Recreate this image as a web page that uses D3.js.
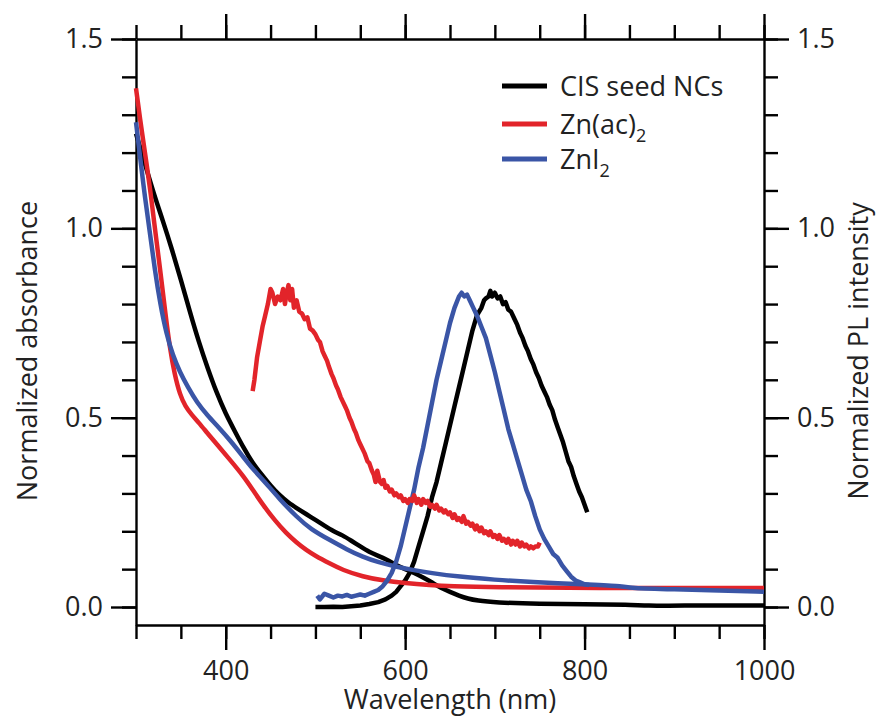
<!DOCTYPE html>
<html>
<head>
<meta charset="utf-8">
<script src="https://cdn.jsdelivr.net/npm/d3@7"></script>
<style>
  body { margin: 0; background: #fff; }
  svg { display: block; font-family: "Open Sans", sans-serif; }
  .axis path, .axis line { stroke: #000; stroke-width: 2.4; }
  .axis text { font-size: 27px; fill: #222; font-family: "Open Sans", sans-serif; }
</style>
</head>
<body>
<svg id="chart" width="876" height="718"></svg>
<script>
// absorbance spectra  [wavelength nm, normalized absorbance]
var absSeed = [[300,1.25],[310,1.17],[320,1.09],[330,1.02],[340,0.945],[350,0.865],[360,0.78],[370,0.70],
  [380,0.63],[390,0.565],[400,0.51],[410,0.465],[420,0.42],[430,0.38],[440,0.35],[450,0.32],[460,0.295],
  [470,0.275],[480,0.26],[490,0.245],[500,0.23],[510,0.215],[520,0.20],[530,0.19],[540,0.175],[550,0.16],
  [560,0.145],[570,0.135],[580,0.125],[590,0.11],[600,0.10],[610,0.09],[620,0.078],[630,0.065],[640,0.05],
  [650,0.04],[660,0.03],[670,0.022],[680,0.017],[700,0.012],[750,0.008],[800,0.007],[850,0.006],[870,0.003],
  [900,0.004],[1000,0.004]];
var absZnAc = [[300,1.37],[305,1.28],[310,1.20],[316,1.10],[320,1.02],[327,0.89],[333,0.77],[338,0.68],
  [343,0.615],[349,0.56],[355,0.53],[362,0.508],[370,0.487],[380,0.458],[390,0.43],[405,0.388],[420,0.345],
  [430,0.31],[442,0.268],[455,0.228],[467,0.196],[479,0.17],[490,0.15],[500,0.135],[516,0.115],[530,0.098],
  [553,0.08],[575,0.07],[600,0.063],[628,0.058],[650,0.055],[700,0.052],[800,0.05],[1000,0.05]];
var absZnI = [[300,1.28],[304,1.20],[310,1.08],[316,0.98],[321,0.89],[327,0.80],[334,0.72],[341,0.665],
  [349,0.62],[358,0.58],[368,0.54],[380,0.505],[392,0.475],[405,0.44],[420,0.395],[430,0.365],[442,0.335],
  [460,0.285],[479,0.238],[495,0.205],[516,0.177],[535,0.152],[553,0.132],[570,0.118],[591,0.106],
  [610,0.097],[628,0.09],[660,0.08],[700,0.072],[739,0.066],[800,0.06],[840,0.056],[850,0.05],[900,0.047],
  [950,0.044],[1000,0.04]];

// PL spectra  [wavelength nm, normalized PL intensity]
var plSeed = [[500,0.0],[510,0.0],[520,0.001],[530,0.0],[540,0.002],[550,0.004],[560,0.008],[570,0.013],
  [578,0.02],[585,0.03],[590,0.04],[595,0.055],[600,0.07],[605,0.09],[610,0.12],[615,0.16],[620,0.20],
  [625,0.24],[630,0.29],[635,0.33],[640,0.38],[645,0.43],[650,0.48],[655,0.53],[660,0.58],[665,0.63],
  [670,0.68],[675,0.73],[680,0.77],[685,0.79],[688,0.81],[690,0.815],[693,0.82],[695,0.835],[697,0.82],
  [700,0.83],[703,0.815],[706,0.82],[709,0.80],[712,0.805],[715,0.785],[718,0.78],[722,0.76],[725,0.745],
  [728,0.725],[731,0.71],[734,0.69],[737,0.675],[740,0.655],[743,0.64],[746,0.62],[749,0.605],[752,0.585],
  [755,0.57],[758,0.555],[761,0.535],[764,0.52],[767,0.495],[770,0.475],[773,0.455],[776,0.435],[779,0.41],
  [782,0.385],[785,0.37],[788,0.345],[791,0.325],[794,0.305],[797,0.29],[800,0.27],[803,0.25]];
var plZnAc = [[430,0.57],[432,0.60],[435,0.66],[438,0.70],[441,0.74],[444,0.77],[447,0.80],[450,0.84],
  [452,0.83],[455,0.80],[458,0.82],[461,0.81],[464,0.84],[466,0.80],[468,0.83],[470,0.85],[472,0.81],
  [474,0.84],[476,0.79],[479,0.81],[482,0.78],[485,0.775],[488,0.76],[491,0.765],[494,0.735],[497,0.73],
  [500,0.72],[503,0.705],[505,0.70],[508,0.675],[510,0.665],[513,0.65],[515,0.635],[518,0.615],[520,0.605],
  [523,0.585],[525,0.575],[528,0.555],[530,0.545],[533,0.53],[535,0.52],[538,0.50],[540,0.49],[543,0.47],
  [545,0.46],[548,0.44],[550,0.43],[553,0.415],[555,0.405],[558,0.385],[560,0.38],[563,0.36],[565,0.35],
  [567,0.33],[569,0.36],[572,0.33],[574,0.325],[576,0.335],[578,0.315],[580,0.32],[583,0.305],[585,0.31],
  [588,0.295],[590,0.30],[593,0.29],[595,0.295],[598,0.28],[600,0.285],[603,0.275],[605,0.285],[608,0.28],
  [610,0.295],[613,0.275],[615,0.285],[618,0.27],[620,0.285],[623,0.275],[625,0.28],[628,0.265],[630,0.27],
  [633,0.26],[635,0.27],[638,0.255],[640,0.26],[643,0.25],[645,0.255],[648,0.245],[650,0.25],[653,0.235],
  [655,0.245],[658,0.23],[660,0.235],[663,0.225],[665,0.24],[668,0.22],[670,0.225],[673,0.215],[675,0.22],
  [678,0.205],[680,0.215],[683,0.2],[685,0.21],[688,0.195],[690,0.2],[693,0.19],[695,0.2],[698,0.185],
  [700,0.19],[703,0.18],[705,0.19],[708,0.175],[710,0.18],[713,0.17],[715,0.18],[718,0.165],[720,0.175],
  [723,0.165],[725,0.175],[728,0.16],[730,0.17],[733,0.16],[735,0.165],[738,0.155],[740,0.16],[743,0.155],
  [745,0.16],[748,0.16],[750,0.17]];
var plZnI = [[502,0.03],[505,0.02],[510,0.035],[515,0.03],[520,0.025],[525,0.03],[530,0.028],[535,0.032],
  [540,0.027],[545,0.03],[550,0.033],[555,0.03],[560,0.035],[565,0.04],[570,0.045],[575,0.055],[580,0.07],
  [585,0.09],[590,0.12],[595,0.16],[600,0.21],[605,0.26],[610,0.31],[615,0.37],[620,0.42],[625,0.48],
  [630,0.54],[635,0.60],[640,0.65],[645,0.70],[650,0.75],[655,0.79],[660,0.82],[663,0.83],[666,0.82],
  [669,0.825],[672,0.81],[676,0.79],[680,0.77],[685,0.74],[690,0.71],[695,0.665],[700,0.62],[705,0.57],
  [710,0.52],[715,0.47],[720,0.43],[725,0.39],[730,0.35],[735,0.31],[740,0.28],[745,0.24],[750,0.205],
  [755,0.18],[760,0.16],[765,0.14],[770,0.13],[775,0.11],[780,0.095],[785,0.08],[790,0.07],[795,0.065],
  [800,0.06],[805,0.058]];

var legendNames = ['CIS seed NCs', 'Zn(ac)', 'ZnI'];
var legendSubs = ['', '2', '2'];
var colors = ['#000000', '#e2242a', '#3a55a6'];

var xMajor = [400, 600, 800, 1000];
var xMinor = [300, 350, 400, 450, 500, 550, 600, 650, 700, 750, 800, 850, 900, 950, 1000];
var yMajor = [0, 0.5, 1.0, 1.5];
var yMinor = [0, 0.1, 0.2, 0.3, 0.4, 0.5, 0.6, 0.7, 0.8, 0.9, 1.0, 1.1, 1.2, 1.3, 1.4, 1.5];

var svg = d3.select('#chart');
var plotLeft = 136, plotRight = 764, plotTop = 39, plotBottom = 625;

var x = d3.scaleLinear().domain([300, 1000]).range([plotLeft, plotRight]);
// 0 sits a bit above the bottom axis
var y = d3.scaleLinear().domain([-0.0475, 1.5]).range([plotBottom, plotTop]);

function drawAxis(axisFn, scale, pos, minor, major, fmt, pad) {
  var g = svg.append('g').attr('class', 'axis').attr('transform', pos);
  g.call(axisFn(scale).tickValues(minor).tickSize(14).tickSizeOuter(0).tickFormat(''));
  var g2 = svg.append('g').attr('class', 'axis').attr('transform', pos);
  g2.call(axisFn(scale).tickValues(major).tickSize(25).tickSizeOuter(0).tickPadding(pad).tickFormat(fmt));
  g2.select('.domain').remove();
}

drawAxis(d3.axisBottom, x, 'translate(0,' + plotBottom + ')', xMinor, xMajor, d3.format('d'), 11);
drawAxis(d3.axisTop, x, 'translate(0,' + plotTop + ')', xMinor, xMajor, function() { return ''; }, 10);
drawAxis(d3.axisLeft, y, 'translate(' + plotLeft + ',0)', yMinor, yMajor, d3.format('.1f'), 8);
drawAxis(d3.axisRight, y, 'translate(' + plotRight + ',0)', yMinor, yMajor, d3.format('.1f'), 8);

var line = d3.line()
  .x(function(d) { return x(d[0]); })
  .y(function(d) { return y(d[1]); });
var smooth = d3.line()
  .curve(d3.curveBasis)
  .x(function(d) { return x(d[0]); })
  .y(function(d) { return y(d[1]); });

var series = [
  [absSeed, colors[0], smooth], [plSeed, colors[0], line],
  [absZnAc, colors[1], smooth], [absZnI, colors[2], smooth],
  [plZnI, colors[2], line], [plZnAc, colors[1], line]
];

svg.append('g')
  .selectAll('path')
  .data(series)
  .enter().append('path')
  .attr('fill', 'none')
  .attr('stroke', function(d) { return d[1]; })
  .attr('stroke-width', 4.5)
  .attr('stroke-linejoin', 'round')
  .attr('d', function(d) { return d[2](d[0]); });

// legend
var leg = svg.append('g').attr('class', 'legend');
var legY = [86, 124, 159];
legendNames.forEach(function(name, i) {
  leg.append('line')
    .attr('x1', 502).attr('x2', 547)
    .attr('y1', legY[i]).attr('y2', legY[i])
    .attr('stroke', colors[i]).attr('stroke-width', 5);
  var t = leg.append('text')
    .attr('x', 560).attr('y', legY[i] + 10)
    .attr('font-size', 27).attr('fill', '#222')
    .text(name);
  if (legendSubs[i]) {
    t.append('tspan').attr('dy', 8).attr('font-size', 18).text(legendSubs[i]);
  }
});

// axis titles
svg.append('text')
  .attr('x', (plotLeft + plotRight) / 2).attr('y', 709)
  .attr('text-anchor', 'middle').attr('font-size', 27).attr('fill', '#222')
  .text('Wavelength (nm)');
svg.append('text')
  .attr('transform', 'translate(37,351) rotate(-90)')
  .attr('text-anchor', 'middle').attr('font-size', 27).attr('fill', '#222')
  .text('Normalized absorbance');
svg.append('text')
  .attr('transform', 'translate(868,351) rotate(-90)')
  .attr('text-anchor', 'middle').attr('font-size', 27).attr('fill', '#222')
  .text('Normalized PL intensity');
</script>
</body>
</html>
